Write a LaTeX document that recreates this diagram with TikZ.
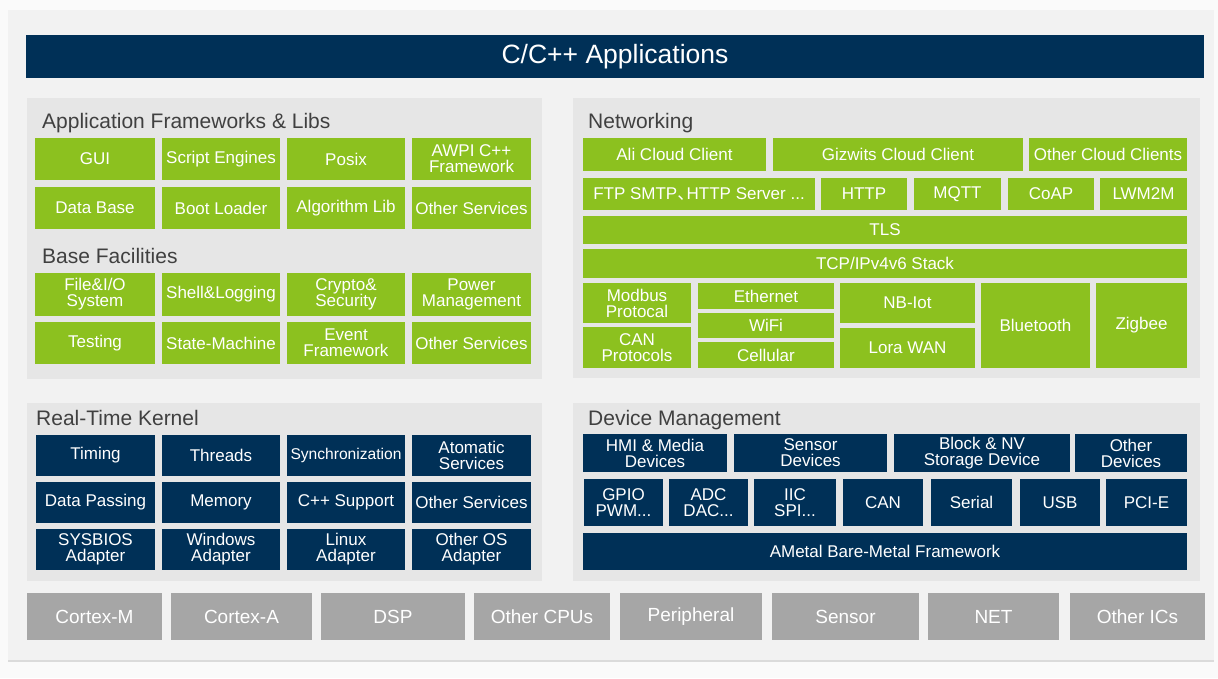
\documentclass[tikz,border=0pt]{standalone}
\usepackage{fontspec}
\setmainfont{Liberation Sans}
\newfontfamily\cjk{Noto Sans CJK SC}
\definecolor{pagebg}{HTML}{FAFAFA}
\definecolor{outerbg}{HTML}{F2F2F2}
\definecolor{panelbg}{HTML}{E6E6E6}
\definecolor{grnc}{HTML}{8CC11F}
\definecolor{navc}{HTML}{003057}
\definecolor{gryc}{HTML}{A6A6A6}
\definecolor{ttlc}{HTML}{404040}
\newcommand\mkbox[7]{\node[#6, minimum width={(#4)-(#2)}, minimum height={(#5)-(#3)}] (#1) at ({((#2)+(#4))/2},{((#3)+(#5))/2}) {#7};}
\begin{document}
\begin{tikzpicture}[x=1pt,y=-1pt,
  basebox/.style={inner sep=0pt, outer sep=0pt, align=center, text=white, font=\fontsize{17}{16}\selectfont},
  grn/.style={basebox, fill=grnc},
  nav/.style={basebox, fill=navc},
  gry/.style={basebox, fill=gryc, font=\fontsize{19}{18}\selectfont},
  panel/.style={inner sep=0pt, outer sep=0pt, fill=panelbg},
  ptitle/.style={anchor=base west, inner sep=0pt, text=ttlc, font=\fontsize{21}{24}\selectfont}
]
\useasboundingbox (0,0) rectangle (1218,678);
\fill[pagebg] (0,0) rectangle (1218,678);
\fill[outerbg] (8,10) rectangle (1214,661);
\draw[color=black!14, line width=1.2pt] (8,661) -- (1214,661);

% title bar
\mkbox{app}{26}{35}{1204}{78}{nav, font=\fontsize{26.5}{30}\selectfont}{C/C++ Applications}

% ---------- Application frameworks panel
\mkbox{pAF}{27}{98}{542}{379}{panel}{}
\node[ptitle] (tAF) at (42,128) {Application Frameworks \& Libs};
\node[ptitle] (tBF) at (42,263) {Base Facilities};
\mkbox{gui}{35}{138}{155}{180}{grn}{GUI}
\mkbox{script}{162}{138}{280}{180}{grn}{Script Engines}
\mkbox{posix}{287}{138}{405}{180}{grn}{Posix}
\mkbox{awpi}{412}{138}{531}{180}{grn}{AWPI C++\\Framework}
\mkbox{db}{35}{187}{155}{229}{grn}{Data Base}
\mkbox{boot}{162}{187}{280}{229}{grn}{Boot Loader}
\mkbox{algo}{287}{187}{405}{229}{grn}{Algorithm Lib}
\mkbox{oserv}{412}{187}{531}{229}{grn}{Other Services}
\mkbox{file}{35}{273}{155}{316}{grn}{File\&I/O\\System}
\mkbox{shell}{162}{273}{280}{316}{grn}{Shell\&Logging}
\mkbox{crypto}{287}{273}{405}{316}{grn}{Crypto\&\\Security}
\mkbox{power}{412}{273}{531}{316}{grn}{Power\\Management}
\mkbox{test}{35}{322}{155}{364}{grn}{Testing}
\mkbox{state}{162}{322}{280}{364}{grn}{State-Machine}
\mkbox{event}{287}{322}{405}{364}{grn}{Event\\Framework}
\mkbox{oserv2}{412}{322}{531}{364}{grn}{Other Services}

% ---------- Networking panel
\mkbox{pNet}{573}{98}{1200}{378}{panel}{}
\node[ptitle] (tNet) at (588,128) {Networking};
\mkbox{ali}{583}{138}{766}{171}{grn}{Ali Cloud Client}
\mkbox{giz}{773}{138}{1023}{171}{grn}{Gizwits Cloud Client}
\mkbox{ocloud}{1029}{138}{1187}{171}{grn}{Other Cloud Clients}
\mkbox{ftp}{583}{178}{815}{210}{grn}{FTP SMTP{\cjk 、}\hspace{-0.45em}HTTP Server ...}
\mkbox{http}{821}{178}{907}{210}{grn}{HTTP}
\mkbox{mqtt}{914}{178}{1001}{210}{grn}{MQTT}
\mkbox{coap}{1008}{178}{1094}{210}{grn}{CoAP}
\mkbox{lwm}{1100}{178}{1187}{210}{grn}{LWM2M}
\mkbox{tls}{583}{216}{1187}{244}{grn}{TLS}
\mkbox{tcp}{583}{249}{1187}{278}{grn}{TCP/IPv4v6 Stack}
\mkbox{modbus}{583}{283}{691}{323}{grn}{Modbus\\Protocal}
\mkbox{canp}{583}{327}{691}{368}{grn}{CAN\\Protocols}
\mkbox{eth}{698}{283}{834}{309}{grn}{Ethernet}
\mkbox{wifi}{698}{313}{834}{338}{grn}{WiFi}
\mkbox{cell}{698}{342}{834}{368}{grn}{Cellular}
\mkbox{nb}{840}{283}{975}{323}{grn}{NB-Iot}
\mkbox{lora}{840}{328}{975}{368}{grn}{Lora WAN}
\mkbox{bt}{981}{283}{1090}{368}{grn}{Bluetooth}
\mkbox{zig}{1096}{283}{1187}{368}{grn}{Zigbee}

% ---------- Real-time kernel panel
\mkbox{pRT}{27}{403}{542}{581}{panel}{}
\node[ptitle] (tRT) at (36,425) {Real-Time Kernel};
\mkbox{timing}{36}{435}{155}{476}{nav}{Timing}
\mkbox{threads}{162}{435}{280}{476}{nav}{Threads}
\mkbox{sync}{287}{435}{405}{476}{nav, font=\fontsize{15.6}{16}\selectfont}{Synchronization}
\mkbox{atom}{412}{435}{531}{476}{nav}{Atomatic\\Services}
\mkbox{dpass}{36}{482}{155}{523}{nav}{Data Passing}
\mkbox{mem}{162}{482}{280}{523}{nav}{Memory}
\mkbox{cpp}{287}{482}{405}{523}{nav}{C++ Support}
\mkbox{oserv3}{412}{482}{531}{523}{nav}{Other Services}
\mkbox{sysb}{36}{529}{155}{570}{nav}{SYSBIOS\\Adapter}
\mkbox{win}{162}{529}{280}{570}{nav}{Windows\\Adapter}
\mkbox{linux}{287}{529}{405}{570}{nav}{Linux\\Adapter}
\mkbox{oos}{412}{529}{531}{570}{nav}{Other OS\\Adapter}

% ---------- Device management panel
\mkbox{pDM}{573}{403}{1200}{581}{panel}{}
\node[ptitle] (tDM) at (588,425) {Device Management};
\mkbox{hmi}{583}{434}{727}{472}{nav}{HMI \& Media\\Devices}
\mkbox{sens}{734}{434}{887}{472}{nav}{Sensor\\Devices}
\mkbox{block}{894}{434}{1070}{472}{nav}{Block \& NV\\Storage Device}
\mkbox{odev}{1075}{434}{1187}{472}{nav}{Other\\Devices}
\mkbox{gpio}{584}{479}{663}{526}{nav}{GPIO\\PWM...}
\mkbox{adc}{669}{479}{748}{526}{nav}{ADC\\DAC...}
\mkbox{iic}{754}{479}{836}{526}{nav}{IIC\\SPI...}
\mkbox{can}{843}{479}{923}{526}{nav}{CAN}
\mkbox{serial}{931}{479}{1012}{526}{nav}{Serial}
\mkbox{usb}{1020}{479}{1100}{526}{nav}{USB}
\mkbox{pcie}{1106}{479}{1187}{526}{nav}{PCI-E}
\mkbox{ametal}{583}{533}{1187}{570}{nav}{AMetal Bare-Metal Framework}

% ---------- Hardware row
\mkbox{cm}{27}{593}{162}{640}{gry}{Cortex-M}
\mkbox{ca}{171}{593}{312}{640}{gry}{Cortex-A}
\mkbox{dsp}{321}{593}{465}{640}{gry}{DSP}
\mkbox{ocpu}{474}{593}{610}{640}{gry}{Other CPUs}
\mkbox{peri}{620}{593}{762}{640}{gry}{Peripheral}
\mkbox{hsens}{772}{593}{919}{640}{gry}{Sensor}
\mkbox{net}{928}{593}{1059}{640}{gry}{NET}
\mkbox{oics}{1070}{593}{1205}{640}{gry}{Other ICs}
\end{tikzpicture}
\end{document}
